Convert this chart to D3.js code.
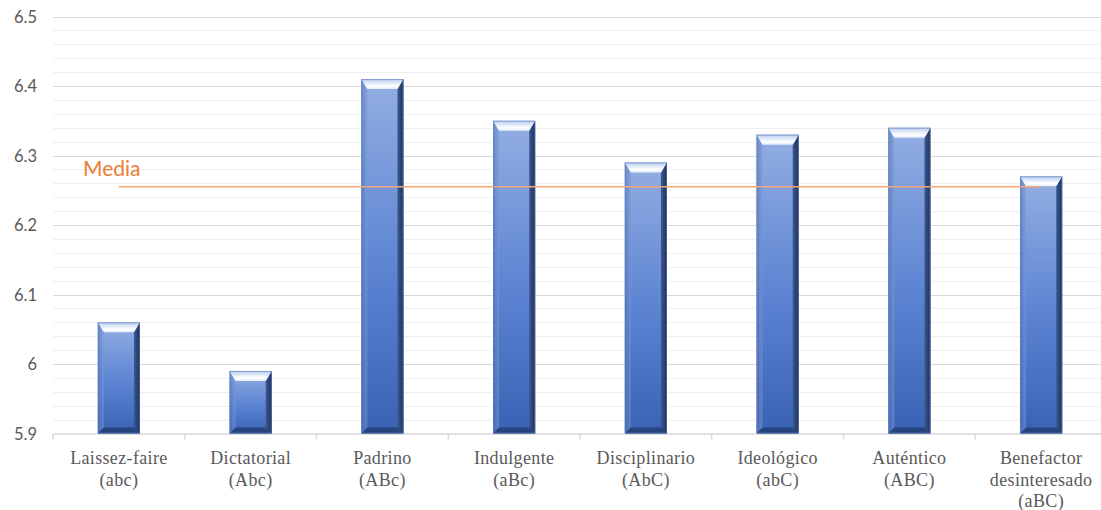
<!DOCTYPE html>
<html>
<head>
<meta charset="utf-8">
<script src="https://cdn.jsdelivr.net/npm/d3@7"></script>
<style>
  html, body { margin: 0; padding: 0; background: #ffffff; }
  svg { display: block; }
</style>
</head>
<body>
<svg id="chart" width="1101" height="510"></svg>
<script>
// Leadership style scores
const categories = [
  ["Laissez-faire", "(abc)"],
  ["Dictatorial", "(Abc)"],
  ["Padrino", "(ABc)"],
  ["Indulgente", "(aBc)"],
  ["Disciplinario", "(AbC)"],
  ["Ideológico", "(abC)"],
  ["Auténtico", "(ABC)"],
  ["Benefactor", "desinteresado", "(aBC)"]
];
const values = [6.06, 5.99, 6.41, 6.35, 6.29, 6.33, 6.34, 6.27];
const meanValue = 6.255;
const meanLabel = "Media";
const yTicks = [5.9, 6.0, 6.1, 6.2, 6.3, 6.4, 6.5];
const yMinorTicks = d3.range(5.92, 6.5, 0.02).map(v => +v.toFixed(2)).filter(v => Math.abs(v * 10 - Math.round(v * 10)) > 1e-6);

const serifFont = "'Liberation Serif', 'Times New Roman', Times, 'DejaVu Serif', serif";
const sansFont = "Lato, 'Open Sans', sans-serif";

const svg = d3.select("#chart");
const plotLeft = 53, plotRight = 1107, plotTop = 16.5, plotBottom = 433.5;

const x = d3.scaleBand().domain(d3.range(categories.length)).range([plotLeft, plotRight]).paddingInner(0.68).paddingOuter(0.34);
const xBand = d3.scaleBand().domain(d3.range(categories.length)).range([plotLeft, plotRight]);
const y = d3.scaleLinear().domain([5.9, 6.5]).range([plotBottom, plotTop]);

const defs = svg.append("defs");
const body = defs.append("linearGradient").attr("id", "barBody").attr("x1", 0).attr("y1", 0).attr("x2", 0).attr("y2", 1);
body.append("stop").attr("offset", "0%").attr("stop-color", "#93aee2");
body.append("stop").attr("offset", "55%").attr("stop-color", "#5b83d2");
body.append("stop").attr("offset", "100%").attr("stop-color", "#3a62b4");
const topG = defs.append("linearGradient").attr("id", "barTop").attr("x1", 0).attr("y1", 0).attr("x2", 0).attr("y2", 1);
topG.append("stop").attr("offset", "0%").attr("stop-color", "#b9cbee");
topG.append("stop").attr("offset", "70%").attr("stop-color", "#ffffff");
topG.append("stop").attr("offset", "100%").attr("stop-color", "#e4ecfa");
const rightG = defs.append("linearGradient").attr("id", "barRight").attr("x1", 0).attr("y1", 0).attr("x2", 1).attr("y2", 0);
rightG.append("stop").attr("offset", "0%").attr("stop-color", "#3d5a93");
rightG.append("stop").attr("offset", "100%").attr("stop-color", "#1c2f57");
const leftG = defs.append("linearGradient").attr("id", "barLeft").attr("x1", 0).attr("y1", 0).attr("x2", 1).attr("y2", 0);
leftG.append("stop").attr("offset", "0%").attr("stop-color", "#4d6fb0");
leftG.append("stop").attr("offset", "100%").attr("stop-color", "#7a9ad8");

// Gridlines
svg.append("g").selectAll("line").data(yMinorTicks).join("line")
  .attr("x1", plotLeft).attr("x2", 1101)
  .attr("y1", d => Math.round(y(d)) + 0.5).attr("y2", d => Math.round(y(d)) + 0.5)
  .attr("stroke", "#efefef").attr("stroke-width", 1.2);
svg.append("g").selectAll("line").data(yTicks.slice(1)).join("line")
  .attr("x1", plotLeft).attr("x2", 1101)
  .attr("y1", d => Math.round(y(d)) + 0.5).attr("y2", d => Math.round(y(d)) + 0.5)
  .attr("stroke", "#d9d9d9").attr("stroke-width", 1.2);

// Y axis labels
const yAxis = d3.axisLeft(y).tickValues(yTicks).tickSize(0).tickPadding(0)
  .tickFormat(d => d === 6 ? "6" : d3.format(".1f")(d));
const yg = svg.append("g").attr("transform", `translate(${plotLeft - 16},0)`).call(yAxis);
yg.select(".domain").remove();
yg.selectAll("text").style("font-family", sansFont).style("font-size", "16.5px")
  .attr("fill", "#595959").attr("text-anchor", "end").attr("dy", "0.35em");

// X axis baseline with tick marks between categories
const xAxis = d3.axisBottom(xBand).tickValues([]).tickSizeOuter(0);
const xg = svg.append("g").attr("transform", `translate(0,${plotBottom})`).call(xAxis);
xg.select(".domain").attr("stroke", "#d9d9d9").attr("stroke-width", 1.5);
svg.append("g").selectAll("line").data(d3.range(categories.length + 1)).join("line")
  .attr("x1", i => plotLeft + i * xBand.step()).attr("x2", i => plotLeft + i * xBand.step())
  .attr("y1", plotBottom).attr("y2", plotBottom + 6)
  .attr("stroke", "#d9d9d9").attr("stroke-width", 1.5);

// Beveled bars
const bars = svg.append("g").selectAll("g").data(values).join("g");
bars.each(function(v, i) {
  const g = d3.select(this);
  const x0 = x(i), w = x.bandwidth(), y0 = y(v), y1 = y(5.9), h = y1 - y0;
  const t = Math.min(10, h / 3), s = 6, b = Math.min(6, h / 4);
  g.append("rect").attr("x", x0).attr("y", y0).attr("width", w).attr("height", h).attr("fill", "url(#barBody)");
  g.append("polygon").attr("fill", "url(#barLeft)").attr("opacity", 0.55)
    .attr("points", [[x0, y0], [x0 + s, y0 + t], [x0 + s, y1 - b], [x0, y1]].join(" "));
  g.append("polygon").attr("fill", "url(#barRight)")
    .attr("points", [[x0 + w, y0], [x0 + w - s, y0 + t], [x0 + w - s, y1 - b], [x0 + w, y1]].join(" "));
  g.append("polygon").attr("fill", "#22396b").attr("opacity", 0.75)
    .attr("points", [[x0, y1], [x0 + s, y1 - b], [x0 + w - s, y1 - b], [x0 + w, y1]].join(" "));
  g.append("polygon").attr("fill", "url(#barTop)")
    .attr("points", [[x0, y0], [x0 + w, y0], [x0 + w - s, y0 + t], [x0 + s, y0 + t]].join(" "));
  g.append("rect").attr("x", x0 + 0.5).attr("y", y0 + 0.5).attr("width", w - 1).attr("height", h - 1)
    .attr("fill", "none").attr("stroke", "#5a7bbd").attr("stroke-width", 1).attr("opacity", 0.6);
});

// Mean line from first to last category centre
svg.append("line")
  .attr("x1", x(0) + x.bandwidth() / 2).attr("x2", x(categories.length - 1) + x.bandwidth() / 2)
  .attr("y1", y(meanValue)).attr("y2", y(meanValue))
  .attr("stroke", "#f4a676").attr("stroke-width", 1.6);
svg.append("text").attr("x", 83).attr("y", y(meanValue) - 11)
  .style("font-family", sansFont).style("font-size", "21px")
  .attr("fill", "#ed7d31").text(meanLabel);

// Category labels
const labels = svg.append("g").selectAll("text").data(categories).join("text")
  .attr("x", (d, i) => xBand(i) + xBand.bandwidth() / 2)
  .attr("y", 464)
  .attr("text-anchor", "middle")
  .style("font-family", serifFont).style("font-size", "18px")
  .style("letter-spacing", "0.35px")
  .attr("fill", "#595959");
labels.each(function(d) {
  const t = d3.select(this);
  d.forEach((line, k) => {
    t.append("tspan").attr("x", t.attr("x")).attr("dy", k === 0 ? 0 : 21.5).text(line);
  });
});
</script>
</body>
</html>
